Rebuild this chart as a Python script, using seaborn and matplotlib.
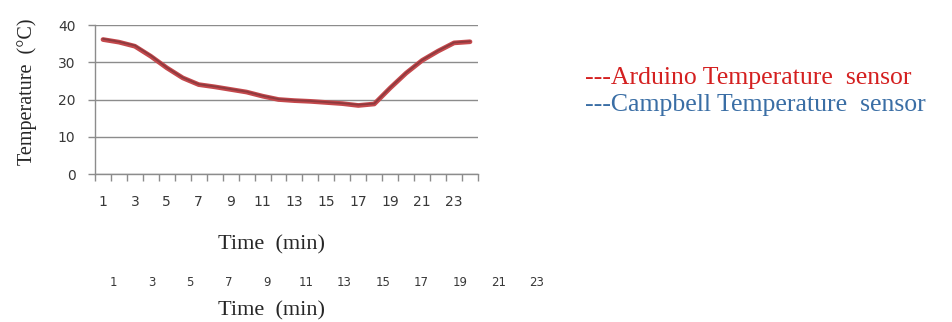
import numpy as np
import pandas as pd
import matplotlib.pyplot as plt
import seaborn as sns

# data
minutes = list(range(1, 25))
arduino = [36.1, 35.4, 34.3, 31.6, 28.5, 25.8, 24.0, 23.4, 22.7, 22.0, 20.9, 20.0,
           19.7, 19.5, 19.2, 18.9, 18.4, 18.8, 23.1, 27.1, 30.5, 33.0, 35.2, 35.5]
campbell = [36.3, 35.5, 34.5, 31.8, 28.6, 25.9, 24.1, 23.5, 22.8, 22.1, 21.0, 20.1,
            19.8, 19.6, 19.3, 19.0, 18.6, 18.9, 23.2, 27.2, 30.6, 33.1, 35.3, 35.6]
tick_labels = [str(m) for m in range(1, 24, 2)]

df = pd.DataFrame({'Time': minutes * 2,
                   'Temperature': arduino + campbell,
                   'Sensor': ['---Arduino Temperature  sensor'] * 24 +
                             ['---Campbell Temperature  sensor'] * 24})

sns.set_style('white')
W, H = 953, 322
fig = plt.figure(figsize=(W / 100, H / 100), dpi=100)

# main plot area in pixel coordinates
ax = fig.add_axes([95 / W, 1 - 174 / H, 383 / W, 149 / H])
sns.lineplot(data=df, x='Time', y='Temperature', hue='Sensor',
             palette=['#C4484C', '#8E3A3E'], ax=ax, legend=True)
for line, lw in zip(ax.get_lines(), [3.4, 1.3]):
    line.set_linewidth(lw)

ax.set_xlim(0.5, 24.5)
ax.set_ylim(0, 40)
ax.set_yticks([0, 10, 20, 30, 40])
ax.yaxis.grid(True, color='#8c8c8c', lw=1)
ax.set_xticks(range(1, 24, 2))
ax.set_xticklabels(tick_labels)
ax.set_xticks(np.arange(0.5, 25, 1), minor=True)
ax.tick_params(axis='x', which='major', length=0, pad=15, labelsize=10, labelcolor='#383838')
ax.tick_params(axis='x', which='minor', length=5, width=1, color='#8c8c8c', direction='out', bottom=True)
ax.tick_params(axis='y', length=5, width=1, color='#8c8c8c', direction='out', left=True,
               pad=9, labelsize=10, labelcolor='#383838')
for s in ['top', 'right']:
    ax.spines[s].set_visible(False)
for s in ['left', 'bottom']:
    ax.spines[s].set_color('#8c8c8c')
    ax.spines[s].set_linewidth(1)

ax.set_ylabel('Temperature  (°C)', family='Liberation Serif', fontsize=14.5)
ax.yaxis.set_label_coords(-0.152, 0.55)
ax.set_xlabel('Time  (min)', family='Liberation Serif', fontsize=16)
ax.xaxis.set_label_coords(0.462, -0.475)
ax.xaxis.label.set_va('center')

# legend as coloured text on the right
leg = ax.legend(loc='upper left', bbox_to_anchor=(572 / W, 1 - 53 / H),
                bbox_transform=fig.transFigure, frameon=False, handlelength=0,
                handletextpad=0, labelspacing=0.18, borderpad=0,
                prop={'family': 'Liberation Serif', 'size': 18.5})
for h in leg.legend_handles:
    h.set_visible(False)
for t, c in zip(leg.get_texts(), ['#D42020', '#3A6EA5']):
    t.set_color(c)

# second (duplicated) time axis below
ax2 = fig.add_axes([93.7 / W, 1 - 272 / H, 462.5 / W, 0.001])
ax2.set_xlim(0, 24)
ax2.set_xticks(range(1, 24, 2))
ax2.set_xticklabels(tick_labels)
ax2.set_yticks([])
ax2.tick_params(axis='x', length=0, pad=3, labelsize=8.5, labelcolor='#383838')
for s in ax2.spines.values():
    s.set_visible(False)
fig.text(272 / W, 1 - 311 / H, 'Time  (min)', family='Liberation Serif', fontsize=16,
         ha='center', va='center', color='#262626')

fig.savefig('out.png', dpi=100)
